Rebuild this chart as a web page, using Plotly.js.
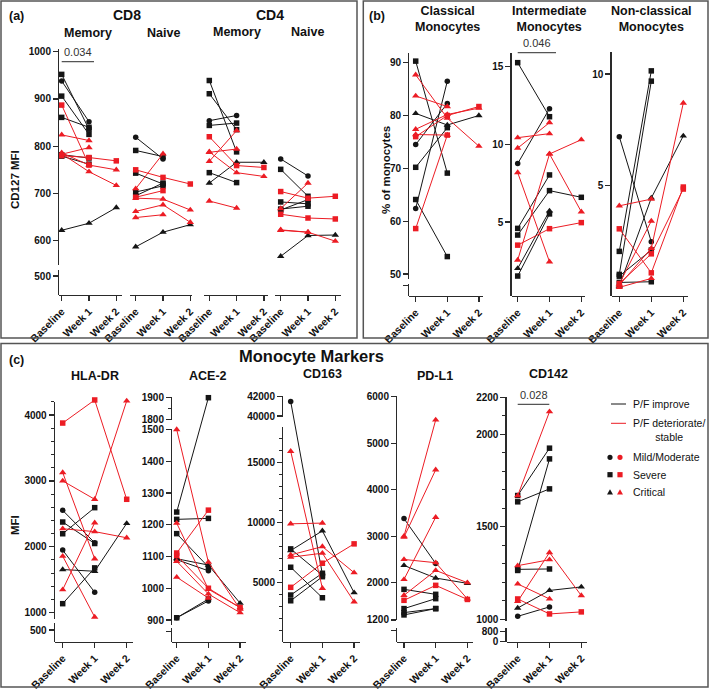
<!DOCTYPE html>
<html><head><meta charset="utf-8">
<script src="https://cdn.plot.ly/plotly-3.0.1.min.js"></script>
<style>html,body{margin:0;padding:0;background:#fff}#chart{width:709px;height:690px}</style>
</head><body><div id="chart"></div>
<script>
// ---------------- DATA ----------------
const timepoints = ['Baseline', 'Week 1', 'Week 2'];
// each row: [P/F group, severity, Baseline, Week 1, Week 2]
const cd8Memory = [
  ['improve','severe',952,836,null],
  ['improve','mild',938,852,null],
  ['improve','severe',906,825,null],
  ['improve','severe',861,840,null],
  ['improve','severe',782,775,null],
  ['improve','severe',779,762,null],
  ['improve','critical',622,637,670],
  ['deteriorate','severe',887,760,null],
  ['deteriorate','critical',824,812,null],
  ['deteriorate','critical',783,797,null],
  ['deteriorate','severe',780,776,769],
  ['deteriorate','critical',786,760,750],
  ['deteriorate','critical',784,746,717]
];
const cd8Naive = [
  ['improve','mild',819,773,null],
  ['improve','severe',791,778,null],
  ['improve','severe',743,720,null],
  ['improve','severe',703,716,null],
  ['improve','severe',695,722,null],
  ['improve','critical',587,618,634],
  ['deteriorate','severe',750,734,720],
  ['deteriorate','critical',710,784,null],
  ['deteriorate','severe',692,706,null],
  ['deteriorate','critical',690,688,665],
  ['deteriorate','critical',662,676,639],
  ['deteriorate','critical',649,655,null]
];
const cd4Memory = [
  ['improve','severe',939,788,null],
  ['improve','severe',911,835,null],
  ['improve','mild',854,865,null],
  ['improve','severe',844,849,null],
  ['improve','severe',744,723,null],
  ['improve','critical',722,766,766],
  ['deteriorate','severe',820,759,755],
  ['deteriorate','critical',787,794,null],
  ['deteriorate','critical',768,833,null],
  ['deteriorate','critical',788,744,736],
  ['deteriorate','critical',684,669,null]
];
const cd4Naive = [
  ['improve','mild',773,737,null],
  ['improve','severe',751,694,null],
  ['improve','severe',682,678,null],
  ['improve','severe',667,673,null],
  ['improve','severe',665,687,null],
  ['improve','critical',567,611,612],
  ['deteriorate','severe',704,690,694],
  ['deteriorate','critical',668,722,null],
  ['deteriorate','severe',656,648,646],
  ['deteriorate','critical',622,618,599],
  ['deteriorate','critical',623,618,null]
];
const classicalMono = [
  ['improve','severe',90.3,69.1,null],
  ['improve','critical',80.4,78.2,80.0],
  ['improve','mild',74.5,82.3,null],
  ['improve','severe',70.2,77.7,null],
  ['improve','severe',64.1,53.3,null],
  ['improve','mild',62.4,86.5,null],
  ['deteriorate','critical',87.7,79.5,74.2],
  ['deteriorate','critical',83.7,81.7,null],
  ['deteriorate','critical',77.4,80.2,81.4],
  ['deteriorate','critical',76.4,76.3,null],
  ['deteriorate','severe',76.0,80.0,81.7],
  ['deteriorate','severe',58.6,76.3,null]
];
const intermediateMono = [
  ['improve','severe',15.26,11.78,null],
  ['improve','mild',8.76,12.30,null],
  ['improve','severe',4.59,8.03,null],
  ['improve','severe',4.16,7.02,6.59],
  ['improve','critical',2.01,5.71,null],
  ['improve','severe',1.52,5.52,null],
  ['deteriorate','critical',10.43,10.69,null],
  ['deteriorate','critical',9.76,11.40,null],
  ['deteriorate','critical',8.18,2.44,null],
  ['deteriorate','severe',3.51,4.57,4.96],
  ['deteriorate','critical',2.55,9.38,10.30],
  ['deteriorate','critical',null,9.38,5.66]
];
const nonClassicalMono = [
  ['improve','mild',7.19,2.49,null],
  ['improve','severe',2.06,10.14,null],
  ['improve','severe',1.03,9.68,null],
  ['improve','severe',0.95,2.12,null],
  ['improve','severe',0.67,0.70,null],
  ['improve','critical',0.51,4.45,7.23],
  ['deteriorate','critical',4.10,4.40,null],
  ['deteriorate','severe',3.07,1.10,4.94],
  ['deteriorate','critical',0.45,0.85,null],
  ['deteriorate','critical',0.55,2.20,8.70],
  ['deteriorate','critical',0.60,3.42,null],
  ['deteriorate','severe',0.62,1.95,4.85]
];
const hlaDr = [
  ['improve','mild',2553,2061,null],
  ['improve','severe',2376,2050,null],
  ['improve','severe',2198,2594,null],
  ['improve','mild',1950,1310,null],
  ['improve','critical',1655,1629,2355],
  ['improve','severe',1137,1680,null],
  ['deteriorate','severe',3878,4228,2721],
  ['deteriorate','critical',3127,1817,null],
  ['deteriorate','critical',3000,2721,4213],
  ['deteriorate','critical',2274,2230,2137],
  ['deteriorate','critical',1858,934,null],
  ['deteriorate','critical',1350,2365,null]
];
const ace2 = [
  ['improve','severe',1240,1900,null],
  ['improve','severe',1217,1220,null],
  ['improve','severe',1172,1067,null],
  ['improve','critical',1093,1073,953],
  ['improve','mild',1090,1055,null],
  ['improve','severe',907,966,null],
  ['improve','mild',907,960,null],
  ['deteriorate','critical',1500,1082,934],
  ['deteriorate','critical',1205,997,939],
  ['deteriorate','severe',1111,1246,null],
  ['deteriorate','severe',1103,1000,939],
  ['deteriorate','critical',1085,982,923],
  ['deteriorate','critical',1035,969,null]
];
const cd163 = [
  ['improve','mild',41500,5700,null],
  ['improve','severe',7808,5617,null],
  ['improve','critical',7667,9308,4167],
  ['improve','severe',6283,3750,null],
  ['improve','severe',3975,5783,null],
  ['improve','severe',3500,5500,null],
  ['deteriorate','critical',15917,4533,null],
  ['deteriorate','critical',9892,9950,null],
  ['deteriorate','critical',7308,8000,5833],
  ['deteriorate','critical',7117,7450,3417],
  ['deteriorate','severe',4617,6617,8225]
];
const pdL1 = [
  ['improve','mild',3379,2414,null],
  ['improve','critical',2371,2100,1986],
  ['improve','severe',1857,1750,null],
  ['improve','severe',1443,1657,null],
  ['improve','severe',1357,1443,null],
  ['improve','severe',1307,1443,null],
  ['deteriorate','critical',3000,5500,null],
  ['deteriorate','critical',2980,4429,null],
  ['deteriorate','critical',2071,3407,null],
  ['deteriorate','critical',2500,2430,1650],
  ['deteriorate','critical',1729,2264,2000],
  ['deteriorate','severe',1621,1943,1640]
];
const cd142 = [
  ['improve','severe',1669,1925,null],
  ['improve','severe',1635,1705,null],
  ['improve','severe',1264,1867,null],
  ['improve','severe',1270,1272,null],
  ['improve','critical',1061,1156,1175],
  ['improve','mild',1016,1067,null],
  ['deteriorate','critical',1668,2122,null],
  ['deteriorate','critical',1290,1322,null],
  ['deteriorate','critical',1191,1110,null],
  ['deteriorate','severe',1110,1029,1040],
  ['deteriorate','critical',1097,1361,1128]
];

// ---------------- LAYOUT HELPERS ----------------
const W = 709, H = 690;
const fx = p => p / W, fy = p => 1 - p / H;
function S(vA, pA, vB, pB) { const k = (pB - pA) / (vB - vA); return { px: v => pA + (v - vA) * k, val: p => vA + (p - pA) / k }; }
function steps(a, b, s) { const o = []; for (let v = a; v <= b + 1e-9; v += s) o.push(v); return o; }

const FONT = '"Liberation Sans", Arial, sans-serif';
const BLACK = '#151515', RED = '#ec1c24', AXIS = '#2a2a2a';
const colorOf = { improve: BLACK, deteriorate: RED };
const symbolOf = { mild: 'circle', severe: 'square', critical: 'triangle-up' };
const sizeOf = { mild: 5.5, severe: 5.5, critical: 6.5 };

const scA = S(1000, 51.7, 600, 240.7);
const scCl = S(90, 62.7, 50, 274);
const scIn = S(15, 66.7, 5, 222);
const scNc = S(10, 74, 5, 185.7);
const scHla = S(4000, 415, 1000, 612.7);
const scAce = S(1500, 429.5, 900, 620);
const scAceTop = S(1900, 397.7, 1800, 419.3);
const sc163 = S(15000, 462.3, 5000, 582.7);
const sc163Top = S(42000, 396.7, 40000, 416);
const scPd = S(6000, 396.7, 2000, 582.7);
const sc142 = S(2200, 397.3, 1000, 619.3);

const yGroups = [
  { top: 40, bot: 295, main: scA, segs: [
    { sc: scA, top: 49.3, bot: 265, ticks: [600, 700, 800, 900, 1000] },
    { sc: S(500, 276, 400, 323.25), top: 270, bot: 295, ticks: [500] } ] },
  { top: 40, bot: 296, main: scCl, segs: [
    { sc: scCl, top: 53, bot: 279, ticks: [50, 60, 70, 80, 90] },
    { sc: scCl, top: 284, bot: 296, ticks: [], markPx: [285.7] } ] },
  { top: 40, bot: 296, main: scIn, segs: [
    { sc: scIn, top: 53, bot: 296, ticks: [5, 10, 15] } ] },
  { top: 40, bot: 296, main: scNc, segs: [
    { sc: scNc, top: 51.7, bot: 296, ticks: [5, 10] } ] },
  { top: 388, bot: 641.7, main: scHla, segs: [
    { sc: scHla, top: 401.5, bot: 619, ticks: [1000, 2000, 3000, 4000], minor: steps(1000, 4200, 200) },
    { sc: S(500, 630, 0, 662.95), top: 623, bot: 641.7, ticks: [500] } ] },
  { top: 388, bot: 641.7, main: scAce, remap: [{ lo: 1700, hi: 2100, sc: scAceTop }], segs: [
    { sc: scAceTop, top: 396.8, bot: 419.8, ticks: [1800, 1900], minor: [1850] },
    { sc: scAce, top: 429, bot: 625, ticks: [900, 1000, 1100, 1200, 1300, 1400, 1500] },
    { sc: scAce, top: 628, bot: 641.7, ticks: [], markPx: [631.7] } ] },
  { top: 388, bot: 641.7, main: sc163, remap: [{ lo: 30000, hi: 50000, sc: sc163Top }], segs: [
    { sc: sc163Top, top: 396.2, bot: 417, ticks: [40000, 42000] },
    { sc: sc163, top: 427.3, bot: 641.7, ticks: [5000, 10000, 15000], minor: steps(1000, 17000, 1000) } ] },
  { top: 388, bot: 641.7, main: scPd, segs: [
    { sc: scPd, top: 396.2, bot: 620.3, ticks: [1200, 2000, 3000, 4000, 5000, 6000] },
    { sc: scPd, top: 627.5, bot: 641.7, ticks: [], markPx: [630.7] } ] },
  { top: 388, bot: 641.7, main: sc142, segs: [
    { sc: sc142, top: 396.8, bot: 621, ticks: [1000, 1500, 2000, 2200], minor: steps(1000, 2200, 100) },
    { sc: S(800, 631.7, 0, 641.4), top: 627.5, bot: 641.7, ticks: [0, 800] } ] }
];

const subplots = [
  { rows: cd8Memory, g: 0, xL: 59.3, xR: 121.7, p0: 61.7, d: 27.3 },
  { rows: cd8Naive, g: 0, xL: 130, xR: 191.7, p0: 135.7, d: 27.3 },
  { rows: cd4Memory, g: 0, xL: 204.3, xR: 268.3, p0: 209.3, d: 27.3 },
  { rows: cd4Naive, g: 0, xL: 275, xR: 340.7, p0: 280.7, d: 27.3 },
  { rows: classicalMono, g: 1, xL: 409.3, xR: 483, p0: 415.7, d: 31.6 },
  { rows: intermediateMono, g: 2, xL: 511.7, xR: 585, p0: 517.7, d: 31.8 },
  { rows: nonClassicalMono, g: 3, xL: 611.7, xR: 688, p0: 619.3, d: 32 },
  { rows: hlaDr, g: 4, xL: 55, xR: 133.3, p0: 62.7, d: 32 },
  { rows: ace2, g: 5, xL: 172.3, xR: 246, p0: 176.7, d: 31.7 },
  { rows: cd163, g: 6, xL: 283.3, xR: 360, p0: 290.7, d: 31.7 },
  { rows: pdL1, g: 7, xL: 397.3, xR: 473, p0: 404, d: 31.7 },
  { rows: cd142, g: 8, xL: 506.7, xR: 586.7, p0: 517.7, d: 31.8 }
];

const layout = { width: W, height: H, margin: { l: 0, r: 0, t: 0, b: 0 }, paper_bgcolor: '#fff',
  plot_bgcolor: 'rgba(0,0,0,0)', showlegend: false, annotations: [], shapes: [], hovermode: false };
const traces = [];
const aid = n => (n === 1 ? '' : String(n));
const firstX = {};
subplots.forEach((s, i) => { if (firstX[s.g] === undefined) firstX[s.g] = i + 1; });

function toData(g, v) {
  for (const r of (g.remap || [])) if (v >= r.lo && v <= r.hi) return g.main.val(r.sc.px(v));
  return v;
}

// data (hidden) y axes
yGroups.forEach((g, gi) => {
  layout['yaxis' + aid(gi + 1)] = { domain: [fy(g.bot), fy(g.top)], anchor: 'x' + aid(firstX[gi]),
    range: [g.main.val(g.bot), g.main.val(g.top)], visible: false, fixedrange: true, showgrid: false, zeroline: false };
});
// visible axis segments
let yn = yGroups.length;
yGroups.forEach((g, gi) => {
  g.segs.forEach(seg => {
    yn++;
    const vals = seg.ticks.slice(), txt = seg.ticks.map(String);
    (seg.markPx || []).forEach(p => { vals.push(seg.sc.val(p)); txt.push(''); });
    const ax = { domain: [fy(seg.bot), fy(seg.top)], anchor: 'x' + aid(firstX[gi]),
      range: [seg.sc.val(seg.bot), seg.sc.val(seg.top)], showline: true, linecolor: AXIS, linewidth: 1.3,
      ticks: 'outside', ticklen: 5, tickwidth: 1.3, tickcolor: AXIS, tickmode: 'array', tickvals: vals, ticktext: txt,
      tickfont: { family: FONT, size: 10, color: '#111', weight: 'bold' }, showgrid: false, zeroline: false, fixedrange: true };
    if (seg.minor) ax.minor = { tickmode: 'array', tickvals: seg.minor, ticks: 'outside', ticklen: 3, tickwidth: 1, tickcolor: AXIS, showgrid: false };
    layout['yaxis' + yn] = ax;
    traces.push({ x: [], y: [], type: 'scatter', mode: 'markers', xaxis: 'x' + aid(firstX[gi]), yaxis: 'y' + yn, showlegend: false, hoverinfo: 'skip' });
  });
});

// x axes and data traces
subplots.forEach((s, i) => {
  const n = i + 1, g = yGroups[s.g];
  layout['xaxis' + aid(n)] = { domain: [fx(s.xL), fx(s.xR)], anchor: 'y' + aid(s.g + 1), type: 'category',
    categoryorder: 'array', categoryarray: timepoints, range: [(s.xL - s.p0) / s.d, (s.xR - s.p0) / s.d],
    showline: true, linecolor: AXIS, linewidth: 1.3, ticks: 'outside', ticklen: 5, tickwidth: 1.3, tickcolor: AXIS,
    tickangle: -45, tickfont: { family: FONT, size: 10.5, color: '#111', weight: 'bold' },
    showgrid: false, zeroline: false, fixedrange: true };
  s.rows.forEach(r => {
    traces.push({ type: 'scatter', x: timepoints, y: r.slice(2).map(v => (v == null ? null : toData(g, v))),
      xaxis: 'x' + aid(n), yaxis: 'y' + aid(s.g + 1), mode: 'lines+markers', connectgaps: false, cliponaxis: false,
      line: { color: colorOf[r[0]], width: 1 },
      marker: { symbol: symbolOf[r[1]], size: sizeOf[r[1]], color: colorOf[r[0]], line: { width: 0 } },
      showlegend: false, hoverinfo: 'skip' });
  });
});

// ---------------- TEXT & DECORATION ----------------
function T(x, y, text, size, o = {}) {
  layout.annotations.push(Object.assign({ xref: 'paper', yref: 'paper', x: fx(x), y: fy(y), text, showarrow: false,
    xanchor: 'center', yanchor: 'middle', font: { family: FONT, size, color: '#111' } }, o));
}
function L(x0, y0, x1, y1, color, w) {
  layout.shapes.push({ type: 'line', xref: 'paper', yref: 'paper', x0: fx(x0), y0: fy(y0), x1: fx(x1), y1: fy(y1), line: { color, width: w } });
}
// panel frames
[[1, 1, 357, 338], [363.3, 1, 708, 338], [1, 343.5, 708, 687]].forEach(b =>
  layout.shapes.push({ type: 'rect', xref: 'paper', yref: 'paper', x0: fx(b[0]), x1: fx(b[2]), y0: fy(b[3]), y1: fy(b[1]), line: { color: '#555', width: 1.5 } }));

// panel (a)
T(16, 16, '<b>(a)</b>', 12.5);
T(127, 15, '<b>CD8</b>', 14);
T(88.3, 33, '<b>Memory</b>', 12.5);
T(163, 33, '<b>Naive</b>', 12.5);
T(270, 15, '<b>CD4</b>', 14);
T(236.7, 32.5, '<b>Memory</b>', 12.5);
T(307.3, 32.5, '<b>Naive</b>', 12.5);
T(15, 180, '<b>CD127 MFI</b>', 11.5, { textangle: -90 });
T(77.8, 52.3, '0.034', 11, { font: { family: FONT, size: 11, color: '#333' } });
L(61.7, 61.7, 94, 61.7, '#555', 1.2);

// panel (b)
T(377, 16, '<b>(b)</b>', 12.5);
T(447.3, 19, '<b>Classical<br>Monocytes</b>', 12.5);
T(548.5, 19, '<b>Intermediate<br>Monocytes</b>', 12.5);
T(651, 19, '<b>Non-classical<br>Monocytes</b>', 12.5);
T(386, 170, '<b>% of monocytes</b>', 11.5, { textangle: -90 });
T(536.8, 42.5, '0.046', 11, { font: { family: FONT, size: 11, color: '#333' } });
L(517.7, 52.7, 556, 52.7, '#555', 1.2);

// panel (c)
T(16, 360, '<b>(c)</b>', 12.5);
T(311.5, 355.5, '<b>Monocyte Markers</b>', 16.5);
T(95, 375.5, '<b>HLA-DR</b>', 12.5);
T(208.3, 375.5, '<b>ACE-2</b>', 12.5);
T(322.5, 374, '<b>CD163</b>', 12.5);
T(435, 376.5, '<b>PD-L1</b>', 12.5);
T(548.3, 374, '<b>CD142</b>', 12.5);
T(15, 525, '<b>MFI</b>', 11.5, { textangle: -90 });
T(534, 395, '0.028', 11, { font: { family: FONT, size: 11, color: '#333' } });
L(517.7, 404.3, 549.3, 404.3, '#555', 1.2);

// legend
L(611, 404, 626, 404, BLACK, 1);
L(611, 423.3, 626, 423.3, RED, 1);
const LF = { family: FONT, size: 10.5, color: '#111' };
T(630.5, 404, 'P/F improve', 10.5, { xanchor: 'left', font: LF });
T(630.5, 430, 'P/F deteriorate/<br>stable', 10.5, { xanchor: 'left', align: 'center', font: LF });
T(630.5, 457.3, 'Mild/Moderate', 10.5, { xanchor: 'left', font: LF });
T(630.5, 474.7, 'Severe', 10.5, { xanchor: 'left', font: LF });
T(630.5, 492, 'Critical', 10.5, { xanchor: 'left', font: LF });
[[610, BLACK], [620, RED]].forEach(([cx, col]) => {
  const r = 2.6;
  layout.shapes.push({ type: 'circle', xref: 'paper', yref: 'paper', x0: fx(cx - r), x1: fx(cx + r), y0: fy(457.3 + r), y1: fy(457.3 - r), fillcolor: col, line: { width: 0 } });
  layout.shapes.push({ type: 'rect', xref: 'paper', yref: 'paper', x0: fx(cx - r), x1: fx(cx + r), y0: fy(474.7 + r), y1: fy(474.7 - r), fillcolor: col, line: { width: 0 } });
  const ty = 492;
  layout.shapes.push({ type: 'path', xref: 'paper', yref: 'paper', fillcolor: col, line: { width: 0 },
    path: `M ${fx(cx - 3)} ${fy(ty + 2.4)} L ${fx(cx + 3)} ${fy(ty + 2.4)} L ${fx(cx)} ${fy(ty - 2.8)} Z` });
});

Plotly.newPlot('chart', traces, layout, { staticPlot: true, displayModeBar: false });
</script>
</body></html>
